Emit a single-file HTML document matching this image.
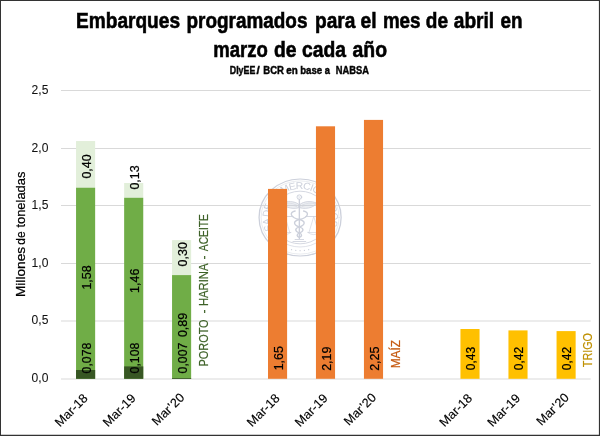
<!DOCTYPE html>
<html lang="es"><head><meta charset="utf-8"><title>Embarques programados para el mes de abril en marzo de cada año</title>
<style>html,body{margin:0;padding:0;background:#fff;}body{width:600px;height:436px;overflow:hidden;font-family:"Liberation Sans",sans-serif;}svg{display:block;}</style>
</head><body>
<svg width="600" height="436" viewBox="0 0 600 436" font-family="Liberation Sans, sans-serif">
<rect x="0" y="0" width="600" height="436" fill="#fff"/>
<line x1="61" x2="590.7" y1="379.0" y2="379.0" stroke="#d9d9d9" stroke-width="1"/>
<line x1="61" x2="590.7" y1="321.0" y2="321.0" stroke="#d9d9d9" stroke-width="1"/>
<line x1="61" x2="590.7" y1="263.5" y2="263.5" stroke="#d9d9d9" stroke-width="1"/>
<line x1="61" x2="590.7" y1="205.5" y2="205.5" stroke="#d9d9d9" stroke-width="1"/>
<line x1="61" x2="590.7" y1="148.5" y2="148.5" stroke="#d9d9d9" stroke-width="1"/>
<line x1="61" x2="590.7" y1="90.5" y2="90.5" stroke="#d9d9d9" stroke-width="1"/>
<g transform="translate(300.1,217.5) scale(1.0656,1)" fill="none" stroke="#ccd0db" stroke-width="0.9" stroke-linecap="round" stroke-linejoin="round">
<circle r="38.5" stroke-width="1.2"/>
<circle r="36.6" stroke-width="0.4"/>
<circle r="26.3" stroke-width="0.8"/>
<path d="M-18.22,23.33 A29.6,29.6 0 0 0 18.22,23.33" stroke-width="0.6"/>
<path id="sealarc" d="M-13.87,25.01 A28.6,28.6 0 1 1 14.73,24.51" stroke="none"/>
<text font-size="9.8" fill="#ccd0db" stroke="none"><textPath href="#sealarc" textLength="149.7" lengthAdjust="spacing">BOLSA DE COMERCIO DE ROSARIO</textPath></text>
<circle cx="8.03" cy="32.21" r="0.6" fill="#ccd0db" stroke="none"/>
<circle cx="4.05" cy="32.95" r="0.6" fill="#ccd0db" stroke="none"/>
<circle cx="0.00" cy="33.20" r="0.6" fill="#ccd0db" stroke="none"/>
<circle cx="-4.05" cy="32.95" r="0.6" fill="#ccd0db" stroke="none"/>
<circle cx="-8.03" cy="32.21" r="0.6" fill="#ccd0db" stroke="none"/>
<g transform="translate(-0.7,0)">
<circle cx="0" cy="-20.4" r="2.2" stroke-width="0.9"/>
<path d="M-1.5,-21.9 L1.5,-18.9 M1.5,-21.9 L-1.5,-18.9" stroke-width="0.4"/>
<path d="M0,-18 V21" stroke-width="1.3"/>
<path d="M1,-13.5 C5,-16.5 11,-16.6 16,-14.5 C15,-12.5 13,-11 11,-10.2 C8,-9 4,-8.8 1,-9.6 Z" stroke-width="0.8" fill="#ccd0db" fill-opacity="0.35"/>
<path d="M2.5,-12.4 C7,-14.6 11,-14.8 14.5,-13.8 M2.5,-11 C6,-12.4 9,-12.6 12.5,-12" stroke-width="0.5"/>
<path d="M-1,-13.5 C-5,-16.5 -11,-16.6 -16,-14.5 C-15,-12.5 -13,-11 -11,-10.2 C-8,-9 -4,-8.8 -1,-9.6 Z" stroke-width="0.8" fill="#ccd0db" fill-opacity="0.35"/>
<path d="M-2.5,-12.4 C-7,-14.6 -11,-14.8 -14.5,-13.8 M-2.5,-11 C-6,-12.4 -9,-12.6 -12.5,-12" stroke-width="0.5"/>
<path d="M-4,-6.5 C-9.5,-5.5 -9,0 0,2 C6,3.5 6,7.5 0,9.5 C-5,11 -4,14 0,15.5 C3,16.8 2.5,19 0,20" stroke-width="1.3"/>
<path d="M4,-6.5 C9.5,-5.5 9,0 0,2 C-6,3.5 -6,7.5 0,9.5 C5,11 4,14 0,15.5 C-3,16.8 -2.5,19 0,20" stroke-width="1.3"/>
<path d="M-4,22 H4 M-6,24 H6" stroke-width="0.8"/>
<path d="M-15.5,-1 H-6 M6,-1 H15.5" stroke-width="0.8"/>
<path d="M13.5,-1 L9,15 M13.5,-1 L18,15 M8,15 H19 M8,15 Q13.5,19.5 19,15" stroke-width="0.6"/>
<path d="M-13.5,-1 L-9,15 M-13.5,-1 L-18,15 M-8,15 H-19 M-8,15 Q-13.5,19.5 -19,15" stroke-width="0.6"/>
</g>
</g>
<g font-size="12" text-anchor="end" fill="#111" stroke="#111" stroke-width="0.06">
<text x="48.4" y="382.3" textLength="16.8" lengthAdjust="spacingAndGlyphs">0,0</text>
<text x="48.4" y="324.3" textLength="16.8" lengthAdjust="spacingAndGlyphs">0,5</text>
<text x="48.4" y="266.8" textLength="16.8" lengthAdjust="spacingAndGlyphs">1,0</text>
<text x="48.4" y="208.8" textLength="16.8" lengthAdjust="spacingAndGlyphs">1,5</text>
<text x="48.4" y="151.8" textLength="16.8" lengthAdjust="spacingAndGlyphs">2,0</text>
<text x="48.4" y="93.8" textLength="16.8" lengthAdjust="spacingAndGlyphs">2,5</text>
</g>
<text transform="translate(25.2,296.5) rotate(-90)" font-size="12.8" fill="#000" stroke="#000" stroke-width="0.24"><tspan x="-0.6" textLength="50.2" lengthAdjust="spacingAndGlyphs">Millones</tspan><tspan x="51.8" textLength="13.2" lengthAdjust="spacingAndGlyphs">de</tspan><tspan x="68.9" textLength="56.0" lengthAdjust="spacingAndGlyphs">toneladas</tspan></text>
<rect x="76.05" y="141.05" width="19.1" height="47.20" fill="#e2efda"/>
<rect x="76.05" y="187.75" width="19.1" height="191.05" fill="#70ad47"/>
<rect x="76.05" y="370.00" width="19.1" height="8.80" fill="#375623"/>
<rect x="124.15" y="183.00" width="19.1" height="15.30" fill="#e2efda"/>
<rect x="124.15" y="197.80" width="19.1" height="181.00" fill="#70ad47"/>
<rect x="124.15" y="366.40" width="19.1" height="12.40" fill="#375623"/>
<rect x="172.05" y="240.10" width="19.1" height="35.50" fill="#e2efda"/>
<rect x="172.05" y="275.10" width="19.1" height="103.70" fill="#70ad47"/>
<rect x="172.05" y="378.00" width="19.1" height="0.80" fill="#375623"/>
<rect x="268.00" y="188.90" width="19.1" height="189.90" fill="#ed7d31"/>
<rect x="315.95" y="126.30" width="19.1" height="252.50" fill="#ed7d31"/>
<rect x="363.95" y="119.90" width="19.1" height="258.90" fill="#ed7d31"/>
<rect x="460.45" y="329.00" width="19.1" height="49.80" fill="#ffc000"/>
<rect x="508.45" y="330.40" width="19.1" height="48.40" fill="#ffc000"/>
<rect x="556.55" y="331.10" width="19.1" height="47.70" fill="#ffc000"/>
<text transform="translate(90.60,166.50) rotate(-90)" font-size="12.4" text-anchor="middle" fill="#000" stroke="#000" stroke-width="0.24" textLength="24.2" lengthAdjust="spacingAndGlyphs">0,40</text>
<text transform="translate(138.70,177.50) rotate(-90)" font-size="12.4" text-anchor="middle" fill="#000" stroke="#000" stroke-width="0.24" textLength="24.2" lengthAdjust="spacingAndGlyphs">0,13</text>
<text transform="translate(186.60,254.30) rotate(-90)" font-size="12.4" text-anchor="middle" fill="#000" stroke="#000" stroke-width="0.24" textLength="24.2" lengthAdjust="spacingAndGlyphs">0,30</text>
<text transform="translate(90.60,277.50) rotate(-90)" font-size="12.4" text-anchor="middle" fill="#000" stroke="#000" stroke-width="0.24" textLength="24.2" lengthAdjust="spacingAndGlyphs">1,58</text>
<text transform="translate(138.70,280.80) rotate(-90)" font-size="12.4" text-anchor="middle" fill="#000" stroke="#000" stroke-width="0.24" textLength="24.2" lengthAdjust="spacingAndGlyphs">1,46</text>
<text transform="translate(186.60,325.00) rotate(-90)" font-size="12.4" text-anchor="middle" fill="#000" stroke="#000" stroke-width="0.24" textLength="24.2" lengthAdjust="spacingAndGlyphs">0,89</text>
<text transform="translate(90.60,358.00) rotate(-90)" font-size="12.4" text-anchor="middle" fill="#000" stroke="#000" stroke-width="0.24" textLength="30.8" lengthAdjust="spacingAndGlyphs">0,078</text>
<text transform="translate(138.70,358.00) rotate(-90)" font-size="12.4" text-anchor="middle" fill="#000" stroke="#000" stroke-width="0.24" textLength="30.8" lengthAdjust="spacingAndGlyphs">0,108</text>
<text transform="translate(186.60,358.00) rotate(-90)" font-size="12.4" text-anchor="middle" fill="#000" stroke="#000" stroke-width="0.24" textLength="30.8" lengthAdjust="spacingAndGlyphs">0,007</text>
<text transform="translate(282.55,358.20) rotate(-90)" font-size="12.4" text-anchor="middle" fill="#000" stroke="#000" stroke-width="0.24" textLength="24.2" lengthAdjust="spacingAndGlyphs">1,65</text>
<text transform="translate(330.50,358.70) rotate(-90)" font-size="12.4" text-anchor="middle" fill="#000" stroke="#000" stroke-width="0.24" textLength="24.2" lengthAdjust="spacingAndGlyphs">2,19</text>
<text transform="translate(378.50,358.70) rotate(-90)" font-size="12.4" text-anchor="middle" fill="#000" stroke="#000" stroke-width="0.24" textLength="24.2" lengthAdjust="spacingAndGlyphs">2,25</text>
<text transform="translate(475.00,358.60) rotate(-90)" font-size="12.4" text-anchor="middle" fill="#000" stroke="#000" stroke-width="0.24" textLength="23.4" lengthAdjust="spacingAndGlyphs">0,43</text>
<text transform="translate(523.00,358.60) rotate(-90)" font-size="12.4" text-anchor="middle" fill="#000" stroke="#000" stroke-width="0.24" textLength="23.4" lengthAdjust="spacingAndGlyphs">0,42</text>
<text transform="translate(571.10,358.60) rotate(-90)" font-size="12.4" text-anchor="middle" fill="#000" stroke="#000" stroke-width="0.24" textLength="23.4" lengthAdjust="spacingAndGlyphs">0,42</text>
<text transform="translate(208.1,366.4) rotate(-90)" font-size="12" fill="#3d6127" stroke="#3d6127" stroke-width="0.192"><tspan x="0" textLength="47" lengthAdjust="spacingAndGlyphs">POROTO</tspan><tspan x="52.8">-</tspan><tspan x="60.3" textLength="42.6" lengthAdjust="spacingAndGlyphs">HARINA</tspan><tspan x="107.0">-</tspan><tspan x="115.2" textLength="37.2" lengthAdjust="spacingAndGlyphs">ACEITE</tspan></text>
<text transform="translate(400.00,368.30) rotate(-90)" font-size="12" text-anchor="start" fill="#c55a11" stroke="#c55a11" stroke-width="0.192" textLength="28.3" lengthAdjust="spacingAndGlyphs">MAÍZ</text>
<text transform="translate(592.00,367.20) rotate(-90)" font-size="12" text-anchor="start" fill="#bf9000" stroke="#bf9000" stroke-width="0.192" textLength="34.2" lengthAdjust="spacingAndGlyphs">TRIGO</text>
<g font-size="12.6" text-anchor="end" fill="#000" stroke="#000" stroke-width="0.144">
<text transform="translate(88.50,398.90) rotate(-45)" textLength="40.3" lengthAdjust="spacingAndGlyphs">Mar-18</text>
<text transform="translate(136.60,398.90) rotate(-45)" textLength="40.3" lengthAdjust="spacingAndGlyphs">Mar-19</text>
<text transform="translate(185.10,398.30) rotate(-45)" textLength="39.6" lengthAdjust="spacingAndGlyphs">Mar<tspan dx="0.7">'</tspan><tspan dx="0.7">20</tspan></text>
<text transform="translate(280.45,398.90) rotate(-45)" textLength="40.3" lengthAdjust="spacingAndGlyphs">Mar-18</text>
<text transform="translate(328.40,398.90) rotate(-45)" textLength="40.3" lengthAdjust="spacingAndGlyphs">Mar-19</text>
<text transform="translate(377.00,398.30) rotate(-45)" textLength="39.6" lengthAdjust="spacingAndGlyphs">Mar<tspan dx="0.7">'</tspan><tspan dx="0.7">20</tspan></text>
<text transform="translate(472.90,398.90) rotate(-45)" textLength="40.3" lengthAdjust="spacingAndGlyphs">Mar-18</text>
<text transform="translate(520.90,398.90) rotate(-45)" textLength="40.3" lengthAdjust="spacingAndGlyphs">Mar-19</text>
<text transform="translate(569.60,398.30) rotate(-45)" textLength="39.6" lengthAdjust="spacingAndGlyphs">Mar<tspan dx="0.7">'</tspan><tspan dx="0.7">20</tspan></text>
</g>
<text y="28.4" font-size="22.5" font-weight="bold" fill="#000" stroke="#000" stroke-width="0.6">
<tspan x="76.0" textLength="104.00" lengthAdjust="spacingAndGlyphs">Embarques</tspan>
<tspan x="186.5" textLength="120.90" lengthAdjust="spacingAndGlyphs">programados</tspan>
<tspan x="315.0" textLength="40.40" lengthAdjust="spacingAndGlyphs">para</tspan>
<tspan x="360.6" textLength="16.00" lengthAdjust="spacingAndGlyphs">el</tspan>
<tspan x="382.9" textLength="37.60" lengthAdjust="spacingAndGlyphs">mes</tspan>
<tspan x="425.8" textLength="22.20" lengthAdjust="spacingAndGlyphs">de</tspan>
<tspan x="453.8" textLength="40.40" lengthAdjust="spacingAndGlyphs">abril</tspan>
<tspan x="500.6" textLength="22.00" lengthAdjust="spacingAndGlyphs">en</tspan>
</text>
<text y="56.6" font-size="22.5" font-weight="bold" fill="#000" stroke="#000" stroke-width="0.6">
<tspan x="213.2" textLength="54.60" lengthAdjust="spacingAndGlyphs">marzo</tspan>
<tspan x="274.0" textLength="22.50" lengthAdjust="spacingAndGlyphs">de</tspan>
<tspan x="302.0" textLength="44.00" lengthAdjust="spacingAndGlyphs">cada</tspan>
<tspan x="352.5" textLength="34.50" lengthAdjust="spacingAndGlyphs">año</tspan>
</text>
<text y="73.9" font-size="11.6" font-weight="bold" fill="#050505" stroke="#050505" stroke-width="0.45">
<tspan x="229.8" textLength="25.50" lengthAdjust="spacingAndGlyphs">DIyEE</tspan>
<tspan x="256.4">/</tspan>
<tspan x="263.3" textLength="20.60" lengthAdjust="spacingAndGlyphs">BCR</tspan>
<tspan x="286.2" textLength="11.50" lengthAdjust="spacingAndGlyphs">en</tspan>
<tspan x="300.2" textLength="22.00" lengthAdjust="spacingAndGlyphs">base</tspan>
<tspan x="324.8" textLength="5.20" lengthAdjust="spacingAndGlyphs">a</tspan>
<tspan x="335.8" textLength="33.20" lengthAdjust="spacingAndGlyphs">NABSA</tspan>
</text>
<rect x="0.5" y="0.5" width="599" height="435" fill="none" stroke="#333" stroke-width="1"/>
<rect x="0" y="434.75" width="600" height="1.25" fill="#333"/>
<rect x="598.9" y="0" width="1.1" height="436" fill="#333"/>
</svg>
</body></html>
